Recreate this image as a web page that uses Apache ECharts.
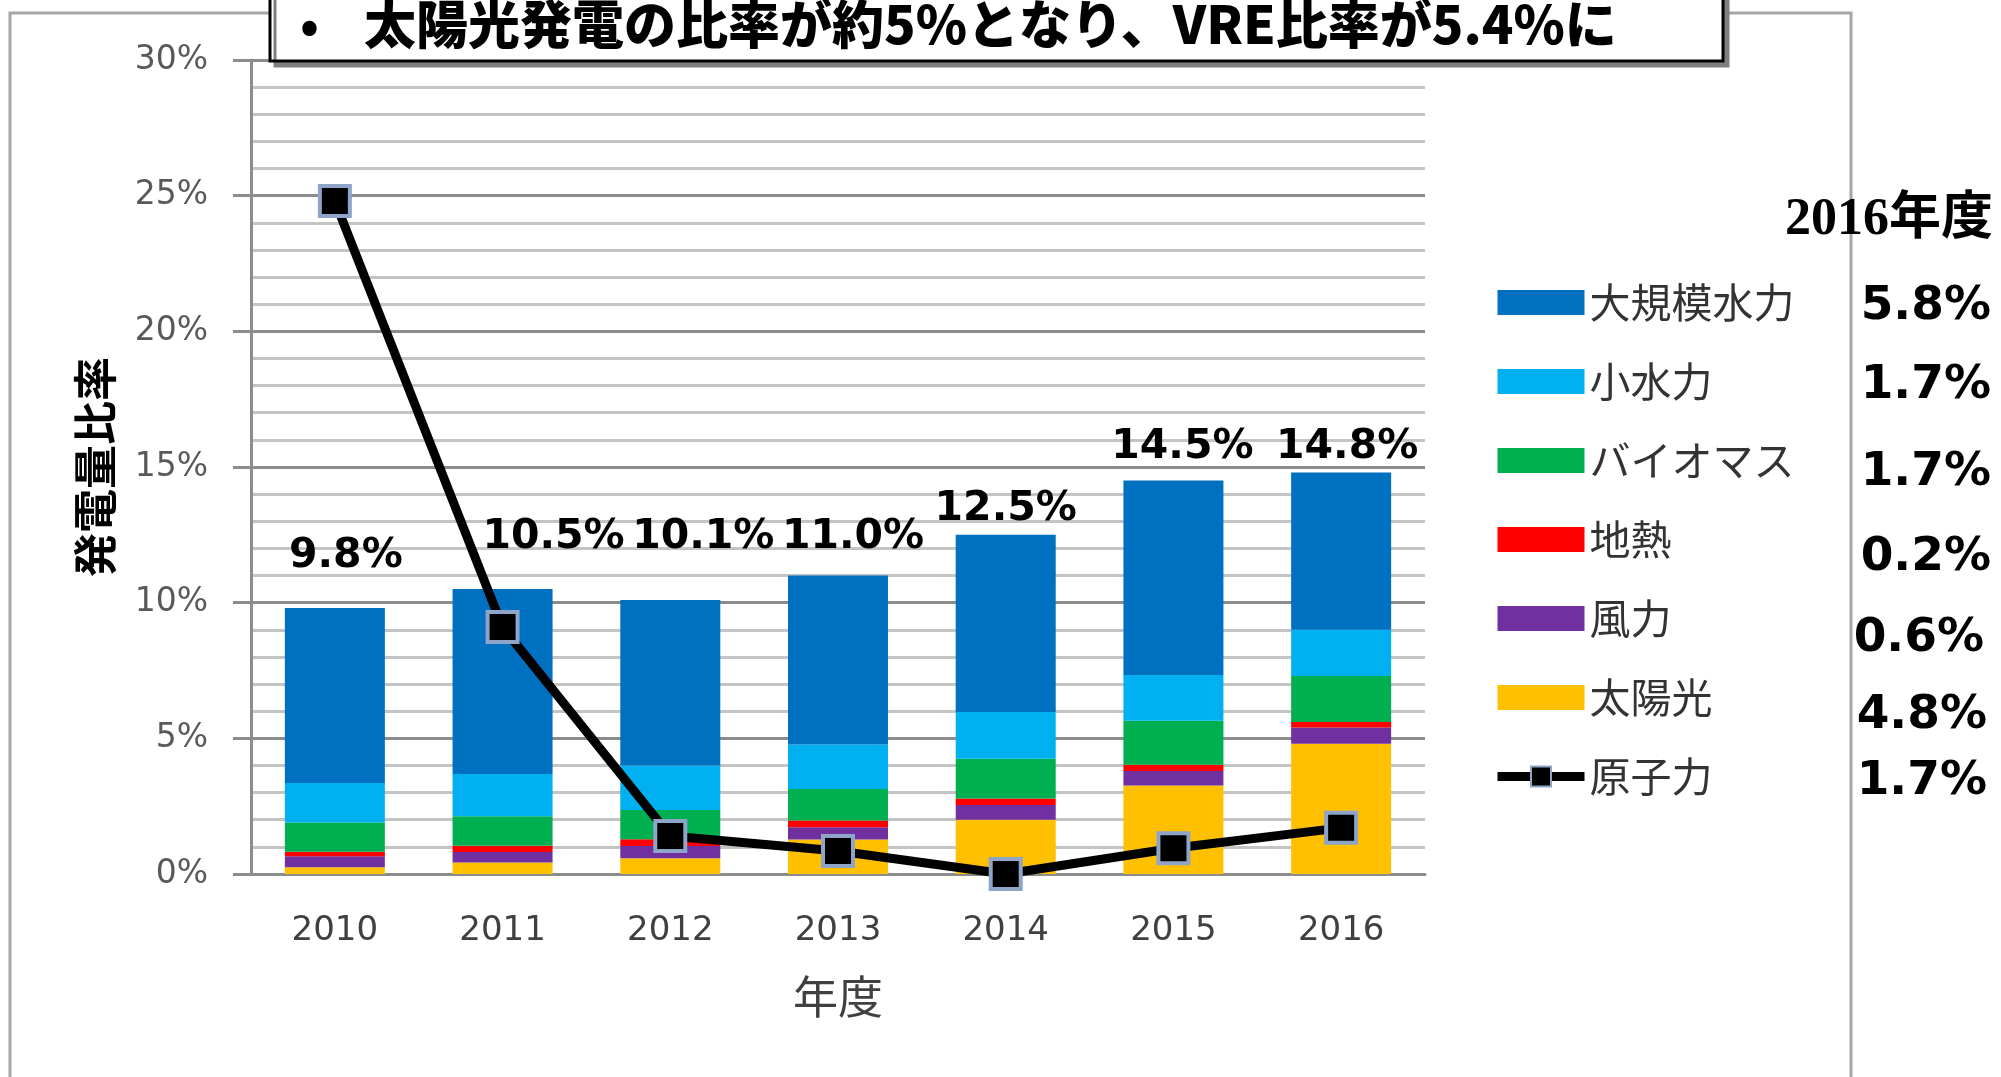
<!DOCTYPE html>
<html>
<head>
<meta charset="utf-8">
<script src="https://cdn.jsdelivr.net/npm/echarts@6/dist/echarts.min.js"></script>
<style>
  html, body { margin: 0; padding: 0; background: #fff; }
  #chart { width: 2001px; height: 1077px; }
</style>
</head>
<body>
<div id="chart"></div>
<script>
const years = ['2010', '2011', '2012', '2013', '2014', '2015', '2016']
const solar = [0.25, 0.42, 0.58, 1.27, 2.0, 3.26, 4.8]
const wind = [0.4, 0.39, 0.45, 0.45, 0.54, 0.54, 0.6]
const geo = [0.17, 0.23, 0.25, 0.25, 0.24, 0.23, 0.2]
const bio = [1.08, 1.09, 1.08, 1.16, 1.47, 1.62, 1.7]
const smallHydro = [1.45, 1.56, 1.64, 1.64, 1.72, 1.68, 1.7]
const largeHydro = [6.45, 6.81, 6.1, 6.23, 6.53, 7.17, 5.8]
const nuclear = [24.8, 9.1, 1.4, 0.85, 0, 0.95, 1.7]
const totals = ['9.8%', '10.5%', '10.1%', '11.0%', '12.5%', '14.5%', '14.8%']
const legendNames = ['大規模水力', '小水力', 'バイオマス', '地熱', '風力', '太陽光', '原子力']
const share2016 = ['5.8%', '1.7%', '1.7%', '0.2%', '0.6%', '4.8%', '1.7%']

const GOTHIC = "'Noto Sans CJK JP', 'Noto Sans', sans-serif"
const NUM = "'DejaVu Sans', 'Noto Sans CJK JP', sans-serif"

// total labels were nudged by hand in the original, keep those shifts (px)
const labelShift = [[11, -9], [51, -9], [33, -20], [15, 4], [0, 17], [9, 9], [6, 17]]
// where the 2016 share numbers sit (right edge x, middle y)
const sharePos = [[1991, 307], [1991, 386], [1991, 473], [1991, 558], [1984, 639], [1987, 716], [1987, 782]]

const chart = echarts.init(document.getElementById('chart'))

const barSeries = (name, data, color, extra) =>
  Object.assign({
    type: 'bar',
    name,
    data,
    stack: 'total',
    barWidth: 100,
    itemStyle: { color },
    emphasis: { disabled: true },
  }, extra || {})

const shareTexts = share2016.map((t, i) => ({
  type: 'text',
  z: 20,
  style: {
    text: t,
    x: sharePos[i][0],
    y: sharePos[i][1],
    textAlign: 'right',
    textVerticalAlign: 'middle',
    font: 'bold 47px ' + NUM,
    fill: '#000',
  },
}))

chart.setOption({
  animation: false,
  grid: { left: 251, right: 576, top: 60, bottom: 203 },
  legend: {
    orient: 'vertical',
    left: 1493,
    top: 282,
    padding: 0,
    itemWidth: 87,
    itemHeight: 25,
    itemGap: 38,
    textStyle: { fontSize: 41, lineHeight: 40, fontFamily: GOTHIC, color: '#333' },
    data: legendNames.map((n, i) =>
      i < 6 ? { name: n, icon: 'rect' } : { name: n, lineStyle: { width: 9 } }),
  },
  xAxis: {
    type: 'category',
    data: years,
    name: '年度',
    nameLocation: 'middle',
    nameGap: 100,
    nameTextStyle: { fontSize: 45, fontFamily: GOTHIC, color: '#404040' },
    axisLine: { show: true, lineStyle: { color: '#8c8c8c', width: 3 } },
    axisTick: { show: false },
    axisLabel: { fontSize: 34, fontFamily: NUM, color: '#404040', margin: 40 },
  },
  yAxis: {
    type: 'value',
    min: 0,
    max: 30,
    interval: 5,
    name: '発電量比率',
    nameLocation: 'middle',
    nameRotate: 90,
    nameGap: 134,
    nameTextStyle: { fontSize: 44, fontWeight: 'bold', fontFamily: GOTHIC, color: '#000' },
    axisLine: { show: true, lineStyle: { color: '#8c8c8c', width: 3 } },
    axisTick: { show: true, length: 18, lineStyle: { color: '#8c8c8c', width: 3 } },
    axisLabel: { formatter: '{value}%', fontSize: 33, fontFamily: NUM, color: '#595959', margin: 43 },
    splitLine: { show: true, lineStyle: { color: '#8c8c8c', width: 3 } },
    minorTick: { show: false, splitNumber: 5 },
    minorSplitLine: { show: true, lineStyle: { color: '#c4c4c4', width: 3 } },
  },
  series: [
    barSeries('太陽光', solar, '#ffc000'),
    barSeries('風力', wind, '#7030a0'),
    barSeries('地熱', geo, '#ff0000'),
    barSeries('バイオマス', bio, '#00b050'),
    barSeries('小水力', smallHydro, '#00b0f0'),
    barSeries('大規模水力', largeHydro.map((v, i) => ({
      value: v,
      label: { offset: labelShift[i] },
    })), '#0070c0', {
      label: {
        show: true,
        position: 'top',
        distance: 22,
        formatter: p => totals[p.dataIndex],
        fontSize: 41,
        fontWeight: 'bold',
        fontFamily: NUM,
        color: '#000',
      },
    }),
    {
      type: 'line',
      name: '原子力',
      data: nuclear,
      z: 10,
      symbol: 'rect',
      symbolSize: 30,
      lineStyle: { color: '#000', width: 9 },
      itemStyle: { color: '#000', borderColor: '#8ea4c8', borderWidth: 4 },
      emphasis: { disabled: true },
    },
  ],
  graphic: [
    {
      type: 'rect',
      z: 0,
      shape: { x: 10, y: 13, width: 1841, height: 1120 },
      style: { fill: 'none', stroke: '#a6a6a6', lineWidth: 3 },
    },
    {
      type: 'rect',
      z: 15,
      shape: { x: 270, y: -10, width: 1453, height: 71 },
      style: {
        fill: '#fff',
        stroke: '#000',
        lineWidth: 3,
        shadowColor: '#7f7f7f',
        shadowOffsetX: 5,
        shadowOffsetY: 5,
        shadowBlur: 0,
      },
    },
    {
      type: 'text',
      z: 16,
      style: {
        text: '•',
        x: 300,
        y: 24,
        textVerticalAlign: 'middle',
        font: 'bold 50px ' + GOTHIC,
        fill: '#000',
      },
    },
    {
      type: 'text',
      z: 16,
      style: {
        text: '太陽光発電の比率が約5%となり、VRE比率が5.4%に',
        x: 364,
        y: 24,
        textVerticalAlign: 'middle',
        font: '900 52px ' + GOTHIC,
        fill: '#000',
      },
    },
    {
      type: 'text',
      z: 20,
      style: {
        text: '2016年度',
        x: 1993,
        y: 221,
        textAlign: 'right',
        textVerticalAlign: 'middle',
        font: "bold 52px 'Liberation Serif', 'Noto Sans CJK JP', serif",
        fill: '#000',
      },
    },
    ...shareTexts,
  ],
})
</script>
</body>
</html>
